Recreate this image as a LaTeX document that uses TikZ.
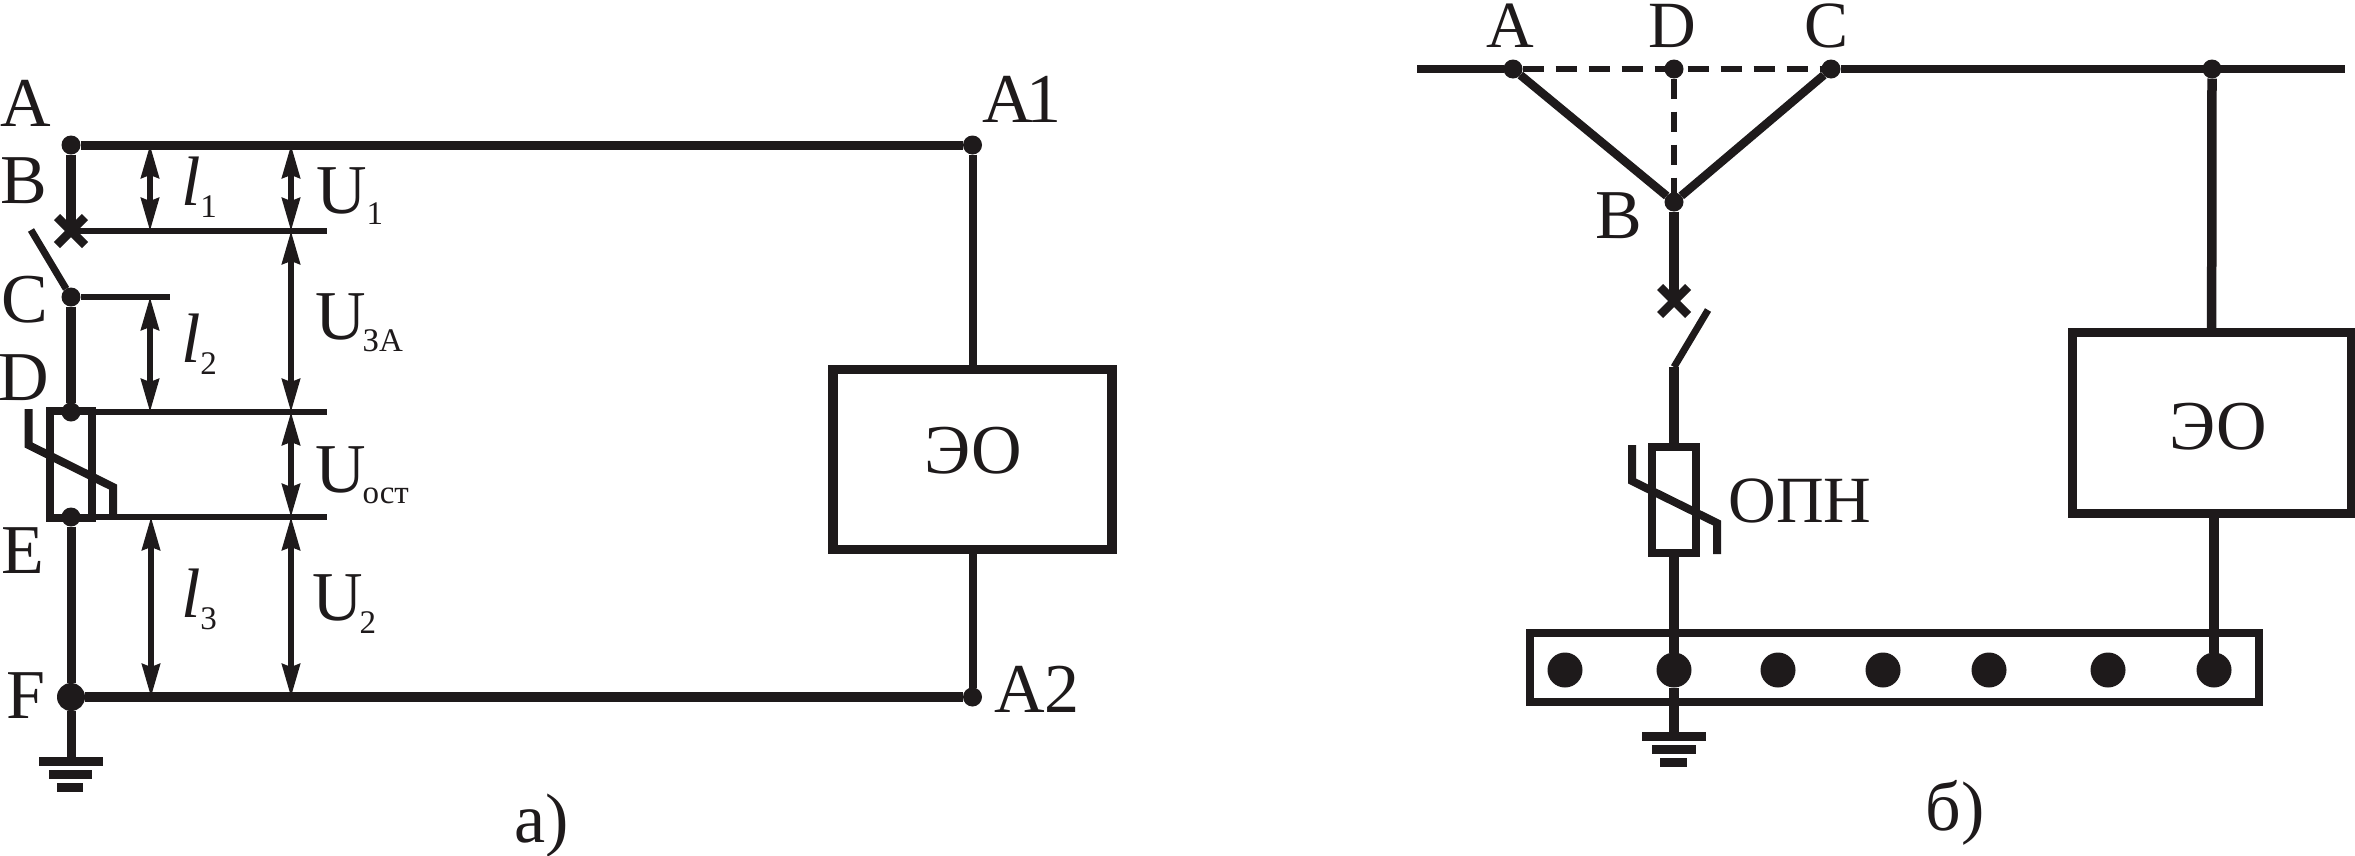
\documentclass[tikz,border=0pt]{standalone}
\usepackage{fontspec}
\setmainfont{Liberation Serif}
\usetikzlibrary{arrows.meta}
\definecolor{ink}{HTML}{1E1A1B}
\newcommand{\subt}[2]{\raisebox{#1}{\fontsize{33}{36}\selectfont #2}}
\tikzset{
  wire/.style={line width=9.5pt,draw=ink},
  midwire/.style={line width=8pt,draw=ink},
  thinwire/.style={line width=5.7pt,draw=ink},
  dashwire/.style={line width=5.5pt,draw=ink,dash pattern=on 21pt off 12pt},
  dimline/.style={line width=5.5pt,draw=ink,arrows={Stealth[length=33pt,width=18pt,inset=3pt,fill=ink]-Stealth[length=33pt,width=18pt,inset=3pt,fill=ink]}},
  dotnode/.style={circle,fill=ink,inner sep=0pt,minimum size=19pt,outer sep=0pt},
  stud/.style={circle,fill=ink,inner sep=0pt,minimum size=35pt,outer sep=0pt},
  framebox/.style={rectangle,draw=ink,line width=9pt,inner sep=0pt,outer sep=0pt},
  txt/.style={inner sep=0pt,outer sep=0pt,text=ink,font=\fontsize{70}{80}\selectfont,anchor=base},
  txttop/.style={txt,font=\fontsize{66}{76}\selectfont},
  txtw/.style={txt,anchor=base west},
  groundbar/.style={line width=9pt,draw=ink},
}
\begin{document}
\begin{tikzpicture}[x=1pt,y=-1pt]
\useasboundingbox (0,0) rectangle (2355,855);
\fill[white] (0,0) rectangle (2355,855);

%% ---------- a) ----------
\node[dotnode] (A) at (71,145) {};
\coordinate (B) at (71,231);
\node[dotnode] (C) at (71,297) {};
\node[dotnode] (D) at (71,412) {};
\node[dotnode] (E) at (71,517) {};
\node[dotnode,minimum size=28pt] (F) at (71,697) {};
\node[dotnode] (A1) at (972.5,145) {};
\node[dotnode] (A2) at (972.5,697) {};
\node[framebox,line width=9.5pt,minimum width=279pt,minimum height=180pt] (EO1) at (972.5,459.5) {};
\node[framebox,line width=8.5pt,minimum width=42pt,minimum height=107pt] (R1) at (71,464.5) {};
\coordinate (G1) at (71,761);

\draw[wire,line width=10pt] (A) -- (B);
\draw[wire,line width=10pt] (C) -- (D);
\draw[wire,line width=9pt] (E) -- (F);
\draw[wire,line width=9pt] (F) -- (G1);
\draw[wire,line width=9pt] (A) -- (A1);
\draw[wire,line width=10pt] (F) -- (A2);
\draw[midwire] (A1) -- (EO1);
\draw[midwire] (EO1) -- (A2);

% breaker cross and blade
\draw[midwire,line width=8.5pt] (57,217) -- (85,245);
\draw[midwire,line width=8.5pt] (85,217) -- (57,245);
\coordinate (blade1) at (31,230);
\draw[midwire,line width=7pt] (blade1) -- (C);

% extension lines
\coordinate (e1) at (327,231);
\coordinate (e2) at (170,297);
\coordinate (e3) at (327,412);
\coordinate (e4) at (327,517);
\draw[thinwire] (B) -- (e1);
\draw[thinwire] (C) -- (e2);
\draw[thinwire] (D) -- (e3);
\draw[thinwire] (E) -- (e4);

% dimension arrows
\coordinate (l1t) at (150,145); \coordinate (l1b) at (150,231);
\coordinate (l2t) at (150,297); \coordinate (l2b) at (150,412);
\coordinate (l3t) at (151,517); \coordinate (l3b) at (151,697);
\coordinate (u0) at (291,145); \coordinate (u1) at (291,231);
\coordinate (u2) at (291,412); \coordinate (u3) at (291,517);
\coordinate (u4) at (291,697);
\draw[dimline] (l1t) -- (l1b);
\draw[dimline] (l2t) -- (l2b);
\draw[dimline] (l3t) -- (l3b);
\draw[dimline] (u0) -- (u1);
\draw[dimline] (u1) -- (u2);
\draw[dimline] (u2) -- (u3);
\draw[dimline] (u3) -- (u4);

% varistor slash
\draw[midwire] (28.5,409) -- (28.5,445) -- (113,487) -- (113,517);

% ground
\draw[groundbar] (39,761) -- (103,761);
\draw[groundbar] (49,774) -- (92,774);
\draw[groundbar] (57,787) -- (83,787);

% labels
\node[txt] (tA) at (26,126) {A};
\node[txt] (tB) at (24,203) {B};
\node[txt] (tC) at (25,322) {C};
\node[txt] (tD) at (24,400) {D};
\node[txt] (tE) at (23,573) {E};
\node[txt] (tF) at (26,718) {F};
\node[txt] (tA1) at (1022,122) {A\hspace{-6pt}1};
\node[txt] (tA2) at (1037,712) {A2};
\node[txt] (tEO1) at (973,473) {ЭО};
\node[txt] (ta) at (542,842) {а)};
\node[txtw] (l1) at (181,205) {\textit{l}\subt{-12pt}{1}};
\node[txtw] (l2) at (181,362) {\textit{l}\subt{-12pt}{2}};
\node[txtw] (l3) at (181,617) {\textit{l}\subt{-12pt}{3}};
\node[txtw] (U1) at (316,213) {U\subt{-11pt}{1}};
\node[txtw] (U3) at (315,339) {U\hspace{-3pt}\subt{-12pt}{ЗА}};
\node[txtw] (Uo) at (315,492) {U\hspace{-3pt}\subt{-11pt}{ост}};
\node[txtw] (U2) at (312,620) {U\hspace{-3pt}\subt{-13pt}{2}};

%% ---------- б) ----------
\node[dotnode] (rA) at (1513,69) {};
\node[dotnode] (rD) at (1674,69) {};
\node[dotnode] (rC) at (1831,69) {};
\node[dotnode] (rB) at (1674,202) {};
\node[dotnode] (rT) at (2212,69) {};
\coordinate (rL) at (1417,69);
\coordinate (rR) at (2345,69);
\coordinate (rX) at (1674,301);
\coordinate (rP) at (1674,367);
\coordinate (rblade) at (1708,310);
\coordinate (rG) at (1674,736);
\node[framebox,line width=8.5pt,minimum width=44pt,minimum height=106pt] (R2) at (1674,500) {};
\node[framebox,minimum width=279pt,minimum height=181pt] (EO2) at (2211.5,422.5) {};
\node[framebox,line width=8.5pt,minimum width=729pt,minimum height=69pt] (bus) at (1894.5,667.5) {};
\node[stud] (s1) at (1565,670) {};
\node[stud] (s2) at (1674,670) {};
\node[stud] (s3) at (1778,670) {};
\node[stud] (s4) at (1883,670) {};
\node[stud] (s5) at (1989,670) {};
\node[stud] (s6) at (2108,670) {};
\node[stud] (s7) at (2214,670) {};

\draw[wire,line width=8.5pt] (rL) -- (rA);
\draw[wire,line width=8.5pt] (rC) -- (rR);
\draw[dashwire] (rA) -- (rC);
\draw[dashwire,dash pattern=on 20pt off 13pt] (rD) -- (rB);
\draw[midwire,line width=8.5pt] (rA) -- (rB);
\draw[midwire,line width=8.5pt] (rC) -- (rB);
\draw[wire] (rB) -- (rX);
\draw[midwire,line width=8.5pt] (1660,287) -- (1688,315);
\draw[midwire,line width=8.5pt] (1688,287) -- (1660,315);
\draw[midwire,line width=7pt] (rblade) -- (rP);
\draw[wire] (rP) -- (R2);
\draw[wire] (R2) -- (s2);
\draw[wire] (s2) -- (rG);
\draw[wire] (rT) -- (EO2);
\draw[wire] (EO2.south -| s7) -- (s7);
\draw[midwire] (1632,445) -- (1632,481) -- (1717,523) -- (1717,554);

\draw[groundbar] (1642,736) -- (1706,736);
\draw[groundbar] (1652,749) -- (1696,749);
\draw[groundbar] (1660,762) -- (1687,762);

\node[txttop] (rtA) at (1510,47) {A};
\node[txttop] (rtD) at (1672,47) {D};
\node[txttop] (rtC) at (1826,47) {C};
\node[txt] (rtB) at (1619,238) {B};
\node[txttop] (tO) at (1800,522) {ОПН};
\node[txt] (tEO2) at (2218,449) {ЭО};
\node[txt] (tb) at (1955,830) {б)};
\end{tikzpicture}
\end{document}
